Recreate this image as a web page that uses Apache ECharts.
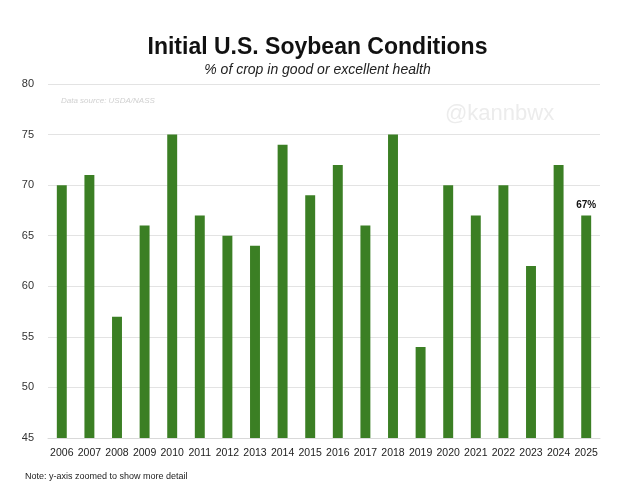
<!DOCTYPE html>
<html>
<head>
<meta charset="utf-8">
<script src="https://cdn.jsdelivr.net/npm/echarts@6/dist/echarts.min.js"></script>
<style>
html,body{margin:0;padding:0;background:#fff;}
#chart{width:635px;height:492px;}
</style>
</head>
<body>
<div id="chart"></div>
<script>
// 年份
var years = ['2006','2007','2008','2009','2010','2011','2012','2013','2014','2015',
	'2016','2017','2018','2019','2020','2021','2022','2023','2024','2025'];
// 良好/优秀比例
var goodExcellent = [70,71,57,66,75,67,65,64,74,69,72,66,75,54,70,67,70,62,72,67];
var yTicks = [45,50,55,60,65,70,75,80];

var myChart = echarts.init(document.getElementById('chart'));
var lastIdx = goodExcellent.length - 1;
option = {
	animation: false,
	title: [{
		text: 'Initial U.S. Soybean Conditions',
		left: 'center',
		top: 31,
		textStyle: {fontFamily: 'Liberation Sans', fontSize: 23, fontWeight: 'bold', color: '#111'}
	}, {
		text: '% of crop in good or excellent health',
		left: 'center',
		top: 58,
		textStyle: {fontFamily: 'Liberation Sans', fontSize: 14, fontStyle: 'italic', fontWeight: 'normal', color: '#222'}
	}, {
		text: 'Data source: USDA/NASS',
		left: 56,
		top: 92,
		textStyle: {fontFamily: 'Liberation Sans', fontSize: 8, fontStyle: 'italic', fontWeight: 'normal', color: '#d0d0d0'}
	}, {
		text: '@kannbwx',
		left: 440,
		top: 98,
		textStyle: {fontFamily: 'Liberation Sans', fontSize: 22, fontWeight: 'normal', color: '#ececec'}
	}, {
		text: 'Note: y-axis zoomed to show more detail',
		left: 20,
		top: 467,
		textStyle: {fontFamily: 'Liberation Sans', fontSize: 9, fontWeight: 'normal', color: '#222'}
	}],
	grid: {left: 48, right: 35, top: 84, bottom: 54, containLabel: false},
	xAxis: {
		type: 'category',
		data: years,
		axisLine: {lineStyle: {color: '#d9d9d9'}},
		axisTick: {show: false},
		axisLabel: {fontFamily: 'Liberation Sans', fontSize: 10.5, color: '#222', margin: 10, interval: 0}
	},
	yAxis: {
		type: 'value',
		min: yTicks[0],
		max: yTicks[yTicks.length - 1],
		interval: 5,
		axisLine: {show: false},
		axisTick: {show: false},
		splitLine: {lineStyle: {color: '#e3e3e3'}},
		axisLabel: {fontFamily: 'Liberation Sans', fontSize: 11, color: '#333', margin: 14}
	},
	series: [{
		type: 'bar',
		barWidth: '36%',
		itemStyle: {color: '#3b7f24'},
		label: {
			show: true,
			position: 'top',
			fontFamily: 'Liberation Sans',
			fontSize: 10,
			fontWeight: 'bold',
			color: '#111',
			formatter: function (p) {
				return p.dataIndex === lastIdx ? p.value + '%' : '';
			}
		},
		data: goodExcellent
	}]
};
myChart.setOption(option);
</script>
</body>
</html>
